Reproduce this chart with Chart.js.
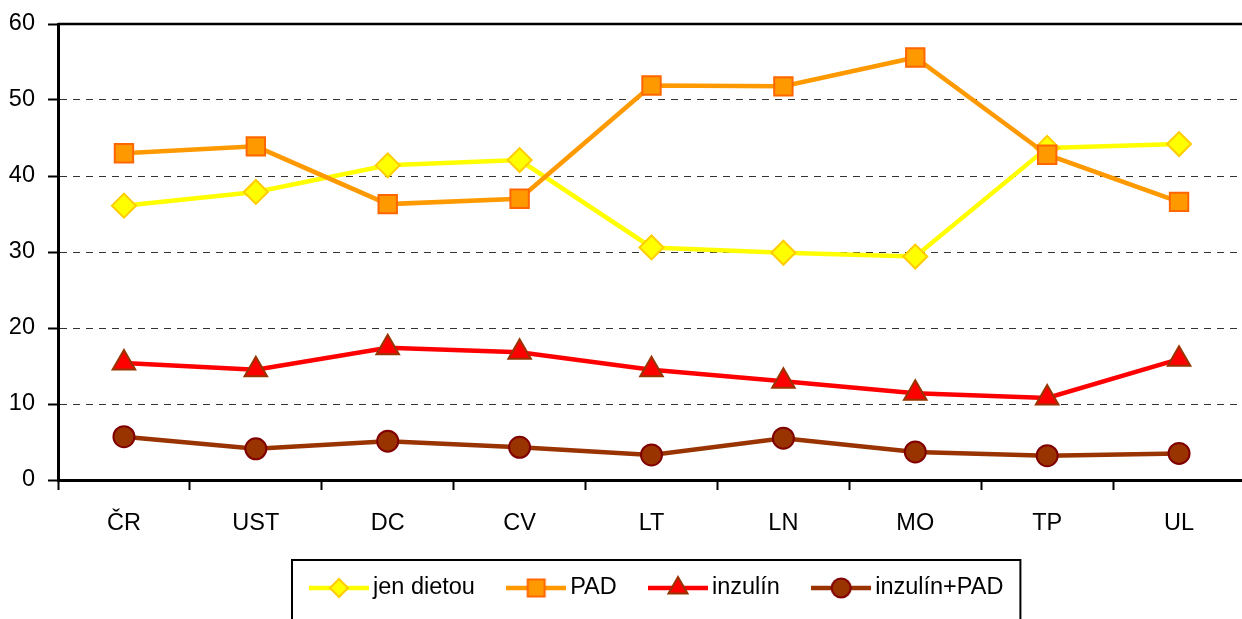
<!DOCTYPE html>
<html>
<head>
<meta charset="utf-8">
<script src="https://cdn.jsdelivr.net/npm/chart.js@4.4.0/dist/chart.umd.min.js"></script>
<style>
  html, body { margin: 0; padding: 0; overflow: hidden; background: #fff; }
  #wrap { position: relative; width: 1260px; height: 650px; }
  #diabChart { display: block; }
</style>
</head>
<body>
<div id="wrap"><canvas id="diabChart" width="1260" height="650"></canvas></div>
<script>
const regions = ["ČR", "UST", "DC", "CV", "LT", "LN", "MO", "TP", "UL"];
const jenDietou = [36.1, 37.9, 41.4, 42.1, 30.6, 29.9, 29.4, 43.7, 44.2];
const pad = [43.0, 43.9, 36.3, 37.0, 51.9, 51.8, 55.6, 42.8, 36.6];
const inzulin = [15.4, 14.5, 17.4, 16.8, 14.5, 13.0, 11.4, 10.8, 15.9];
const inzulinPad = [5.7, 4.1, 5.1, 4.3, 3.3, 5.5, 3.7, 3.2, 3.5];
const yTicks = [0, 10, 20, 30, 40, 50, 60];

const series = [
  { label: "jen dietou", data: jenDietou, line: "#ffff00", fill: "#ffff00", edge: "#ffcc00", shape: "rectRot", r: 12, lr: 9, order: 2 },
  { label: "PAD", data: pad, line: "#ff9900", fill: "#ff9900", edge: "#ff6600", shape: "rect", r: 13, lr: 12, order: 1 },
  { label: "inzulín", data: inzulin, line: "#ff0000", fill: "#ff0000", edge: "#993300", shape: "triangle", r: 13, lr: 11, order: 3 },
  { label: "inzulín+PAD", data: inzulinPad, line: "#993300", fill: "#993300", edge: "#800000", shape: "circle", r: 10.5, lr: 9.5, order: 4 }
];

const FONT = 23.5;
const LEG_PAD = 39;
const LEG_BOX = 68 - FONT;

Chart.defaults.font.family = '"Liberation Sans", Arial, sans-serif';
Chart.defaults.font.size = FONT;
Chart.defaults.color = "#000";

// legend sample: short line with the marker in the middle
function legendImage(s) {
  const c = document.createElement("canvas");
  c.width = 60;
  c.height = 28;
  const g = c.getContext("2d");
  g.strokeStyle = s.line;
  g.lineWidth = 4.5;
  g.beginPath();
  g.moveTo(0, 14);
  g.lineTo(60, 14);
  g.stroke();
  g.fillStyle = s.fill;
  g.strokeStyle = s.edge;
  g.lineWidth = 2;
  Chart.helpers.drawPoint(g, { pointStyle: s.shape, radius: s.lr, rotation: 0, borderWidth: 2 }, 30, 14);
  return c;
}
const legendImages = series.map(legendImage);

const frame = {
  id: "frame",
  afterLayout(chart) {
    // move legend so its first sample starts at x = 309
    const lg = chart.legend;
    const lw = lg.lineWidths[0];
    const x0 = 309 + 30 - LEG_BOX / 2;
    lg.left = 2 * x0 - LEG_PAD - lg.right + lw;
  },
  afterDraw(chart) {
    const { ctx, chartArea, legend } = chart;
    ctx.save();
    ctx.strokeStyle = "#000";
    ctx.lineWidth = 2.5;
    ctx.beginPath();
    ctx.moveTo(chartArea.left, chartArea.top);
    ctx.lineTo(chartArea.right, chartArea.top);
    ctx.stroke();

    const lw = legend.lineWidths[0];
    const x0 = (legend.left + LEG_PAD + legend.right - lw) / 2;
    const left = x0 + LEG_BOX / 2 - 30 - 17;
    const right = x0 + lw - LEG_PAD + 17;
    const top = legend.top + LEG_PAD + FONT / 2 - 28;
    ctx.lineWidth = 2;
    ctx.strokeRect(left, top, right - left, 120);
    ctx.restore();
  }
};

new Chart(document.getElementById("diabChart"), {
  type: "line",
  data: {
    labels: regions,
    datasets: series.map(s => ({
      label: s.label,
      data: s.data,
      order: s.order,
      borderColor: s.line,
      borderWidth: 4.5,
      tension: 0,
      pointStyle: s.shape,
      pointRadius: s.r,
      pointHoverRadius: s.r,
      pointBackgroundColor: s.fill,
      pointBorderColor: s.edge,
      pointBorderWidth: 2
    }))
  },
  options: {
    responsive: false,
    animation: false,
    layout: { padding: { top: 24, left: 0, right: 12, bottom: 40.25 } },
    scales: {
      x: {
        offset: true,
        grid: {
          display: true,
          offset: true,
          drawOnChartArea: false,
          drawTicks: true,
          tickLength: 10,
          tickColor: "#000",
          tickWidth: 2
        },
        border: { display: true, color: "#000", width: 3 },
        ticks: { padding: 19, color: "#000" },
        afterFit: (scale) => {
          scale.height = 57.25;
          scale.paddingLeft = 0;
          scale.paddingRight = 0;
        }
      },
      y: {
        min: yTicks[0],
        max: yTicks[yTicks.length - 1],
        ticks: { stepSize: yTicks[1] - yTicks[0], padding: 13, color: "#000" },
        grid: {
          color: (c) => (c.tick && (c.tick.value === 0 || c.tick.value === 60)) ? "rgba(0,0,0,0)" : "#333",
          lineWidth: 1,
          tickLength: 10,
          tickColor: "#000",
          tickWidth: 2,
          tickBorderDash: []
        },
        border: { display: true, color: "#000", width: 3, dash: [7, 6] },
        afterFit: (scale) => {
          scale.width = 58;
          scale.paddingTop = 10;
          scale.paddingBottom = 10;
        }
      }
    },
    plugins: {
      legend: {
        position: "bottom",
        labels: {
          usePointStyle: true,
          pointStyleWidth: LEG_BOX,
          padding: LEG_PAD,
          color: "#000",
          generateLabels: (chart) => chart.data.datasets.map((ds, i) => ({
            text: ds.label,
            pointStyle: legendImages[i],
            fontColor: "#000",
            datasetIndex: i,
            hidden: false,
            lineWidth: 0,
            strokeStyle: "rgba(0,0,0,0)",
            fillStyle: "rgba(0,0,0,0)"
          }))
        }
      },
      tooltip: { enabled: false }
    }
  },
  plugins: [frame]
});
</script>
</body>
</html>
